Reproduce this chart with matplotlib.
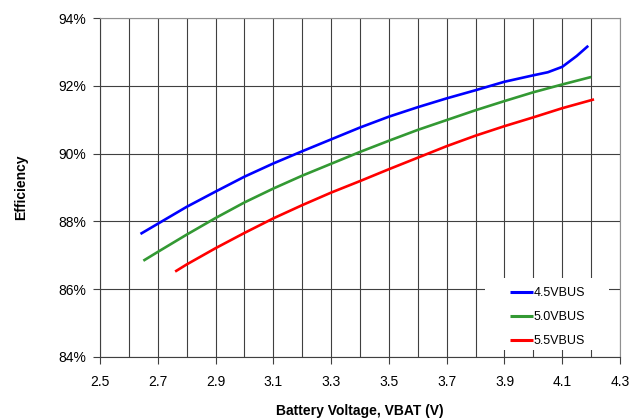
import matplotlib
matplotlib.use('Agg')
import matplotlib.pyplot as plt
from matplotlib.patches import Rectangle
import numpy as np

plt.rcParams['font.family'] = ['Liberation Sans', 'DejaVu Sans']

# efficiency curves
v_45 = [2.64, 2.7, 2.8, 2.9, 3.0, 3.1, 3.2, 3.3, 3.4, 3.5, 3.6, 3.7, 3.8, 3.9, 4.0, 4.05, 4.1, 4.15, 4.19]
e_45 = [87.63, 87.93, 88.43, 88.88, 89.32, 89.71, 90.07, 90.42, 90.77, 91.09, 91.37, 91.63, 91.87, 92.12, 92.31, 92.40, 92.56, 92.88, 93.18]

v_50 = [2.65, 2.7, 2.8, 2.9, 3.0, 3.1, 3.2, 3.3, 3.4, 3.5, 3.6, 3.7, 3.8, 3.9, 4.0, 4.1, 4.2]
e_50 = [86.84, 87.10, 87.61, 88.10, 88.56, 88.97, 89.35, 89.70, 90.05, 90.38, 90.70, 90.99, 91.28, 91.55, 91.81, 92.04, 92.26]

v_55 = [2.76, 2.8, 2.9, 3.0, 3.1, 3.2, 3.3, 3.4, 3.5, 3.6, 3.7, 3.8, 3.9, 4.0, 4.1, 4.21]
e_55 = [86.52, 86.73, 87.21, 87.66, 88.09, 88.48, 88.85, 89.19, 89.54, 89.88, 90.22, 90.53, 90.81, 91.07, 91.34, 91.60]

labels = ['4.5VBUS', '5.0VBUS', '5.5VBUS']
colors = ['#0000ff', '#339933', '#ff0000']

x_ticks = [2.5, 2.7, 2.9, 3.1, 3.3, 3.5, 3.7, 3.9, 4.1, 4.3]
y_ticks = [84, 86, 88, 90, 92, 94]

fig = plt.figure(figsize=(6.42, 4.19), dpi=100)
ax = fig.add_axes([0.1558, 0.148, 0.81, 0.809])

for v, e, lab, c in zip([v_45, v_50, v_55], [e_45, e_50, e_55], labels, colors):
    ax.plot(v, e, color=c, lw=1.9, label=lab, zorder=3, solid_capstyle='butt')

ax.set_xlim(2.5, 4.3)
ax.set_ylim(84, 94)
ax.set_xticks(x_ticks)
ax.set_xticklabels(['%.1f' % t for t in x_ticks])
ax.set_xticks(np.arange(2.6, 4.3, 0.2), minor=True)
ax.set_yticks(y_ticks)
ax.set_yticklabels(['%d%%' % t for t in y_ticks])

ax.grid(True, which='both', axis='x', color='#404040', lw=0.8)
ax.grid(True, which='major', axis='y', color='#404040', lw=0.8)
ax.tick_params(axis='both', which='major', labelsize=10, length=5, width=0.8,
               color='#404040', direction='out')
ax.tick_params(axis='x', which='major', pad=8)
ax.tick_params(axis='y', which='major', pad=5)
ax.tick_params(axis='x', which='minor', length=0)
for side in ['left', 'bottom']:
    ax.spines[side].set_color('#404040')
for side in ['right', 'top']:
    ax.spines[side].set_color('#909090')

ax.set_xlabel('Battery Voltage, VBAT (V)', fontsize=10, fontweight='bold', labelpad=11)
ax.set_ylabel('Efficiency', fontsize=10, fontweight='bold', labelpad=22)

# white legend box covering the grid
ax.add_patch(Rectangle((0.740, 0.021), 0.239, 0.212, transform=ax.transAxes,
                       facecolor='white', edgecolor='none', zorder=2.5))

leg = ax.legend(loc='lower right', bbox_to_anchor=(0.95, 0.003), frameon=False,
                fontsize=9, handlelength=1.8, handletextpad=0.1,
                labelspacing=0.95, borderpad=0.7, borderaxespad=0)
leg.set_zorder(5)
for line in leg.get_lines():
    line.set_linewidth(2.2)

fig.savefig('out.png', dpi=100)
